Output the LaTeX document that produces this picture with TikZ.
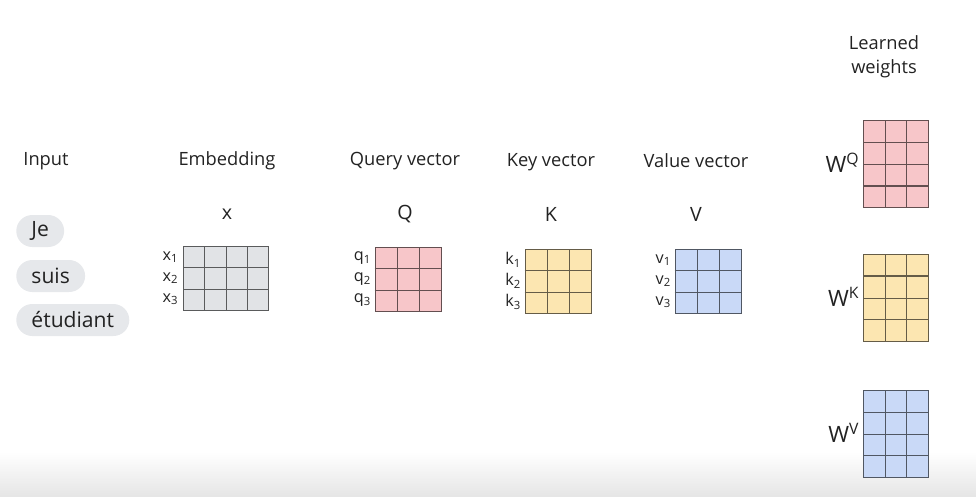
\documentclass[tikz,border=0pt]{standalone}
\usepackage{fontspec}
\setmainfont{Open Sans}
\usetikzlibrary{calc}

\definecolor{pillgray}{HTML}{E6E8EB}
\definecolor{embgray}{HTML}{E1E3E6}
\definecolor{qpink}{HTML}{F7C6C9}
\definecolor{kyellow}{HTML}{FCE6B1}
\definecolor{vblue}{HTML}{C9D9F7}
\definecolor{txtgray}{HTML}{222222}

\begin{document}
\begin{tikzpicture}[
    x=0.025cm, y=-0.025cm,
    font=\fontsize{13}{15}\selectfont,
    every node/.style={text=txtgray},
    pill/.style={fill=pillgray, rounded corners=0.4cm, minimum height=0.8cm,
                 inner xsep=0.38cm, font=\fontsize{15}{17}\selectfont},
    mat/.style={draw=#1!40!black, fill=#1, line width=0.5pt, inner sep=0pt},
    sub/.style={anchor=east, inner sep=1pt, font=\fontsize{11.5}{12}\selectfont},
    wlabel/.style={anchor=east, inner sep=1pt, font=\fontsize{16}{18}\selectfont},
    gridline/.style={draw=#1!40!black, line width=0.5pt}
]

% page and bottom fade
\useasboundingbox (0,0) rectangle (976,496);
\shade[top color=white, bottom color=black!10] (0,452) rectangle (976,496);

% Input column
\node (input) at (46,161) {Input};
\node[pill, anchor=west] (je) at (16,231) {Je};
\node[pill, anchor=west] (suis) at (16,276) {suis};
\node[pill, anchor=west] (etudiant) at (16,320) {étudiant};

% Embedding
\node (embtitle) at (227,161) {Embedding};
\node[font=\fontsize{14}{16}\selectfont] (xname) at (227,214) {x};
\node[mat=embgray, minimum width=2.125cm, minimum height=1.6cm, anchor=north west] (xmat) at (183,246) {};
\foreach \i in {1,2,3}
    \draw[gridline=embgray] ($(xmat.north west)!\i/4!(xmat.north east)$) -- ($(xmat.south west)!\i/4!(xmat.south east)$);
\foreach \i in {1,2}
    \draw[gridline=embgray] ($(xmat.north west)!\i/3!(xmat.south west)$) -- ($(xmat.north east)!\i/3!(xmat.south east)$);
\node[sub] (x1) at (180,257) {x\textsubscript{1}};
\node[sub] (x2) at (180,278) {x\textsubscript{2}};
\node[sub] (x3) at (180,299) {x\textsubscript{3}};

% Query, Key, Value
\foreach \nm/\cx/\ty/\ttl/\big/\col/\s in {
        q/408/247/Query vector/Q/qpink/q,
        k/558/249/Key vector/K/kyellow/k,
        v/708/249/Value vector/V/vblue/v} {
    \node[mat=\col, minimum width=1.65cm, minimum height=1.6cm, anchor=north] (\nm mat) at (\cx,\ty) {};
    \foreach \i in {1,2} {
        \draw[gridline=\col] ($(\nm mat.north west)!\i/3!(\nm mat.north east)$) -- ($(\nm mat.south west)!\i/3!(\nm mat.south east)$);
        \draw[gridline=\col] ($(\nm mat.north west)!\i/3!(\nm mat.south west)$) -- ($(\nm mat.north east)!\i/3!(\nm mat.south east)$);
    }
    \foreach \r in {1,2,3}
        \node[sub] (\nm\r) at ($(\nm mat.north west)+(-2,{21*\r-10})$) {\s\textsubscript{\r}};
}
\node (qtitle) at (405,161) {Query vector};
\node[font=\fontsize{14}{16}\selectfont] (qname) at (405,214) {Q};
\node (ktitle) at (551,162) {Key vector};
\node[font=\fontsize{14}{16}\selectfont] (kname) at (551,214) {K};
\node (vtitle) at (696,161) {Value vector};
\node[font=\fontsize{14}{16}\selectfont] (vname) at (696,214) {V};

% Learned weights
\node[align=center, font=\fontsize{13}{17}\selectfont] (learned) at (884,57) {Learned\\weights};
\foreach \nm/\ty/\col/\s/\thick in {
        wq/120/qpink/Q/3,
        wk/254/kyellow/K/1,
        wv/390/vblue/V/0} {
    \node[mat=\col, minimum width=1.625cm, minimum height=2.175cm, anchor=north west] (\nm) at (863,\ty) {};
    \foreach \i in {1,2}
        \draw[gridline=\col] ($(\nm.north west)!\i/3!(\nm.north east)$) -- ($(\nm.south west)!\i/3!(\nm.south east)$);
    \foreach \i in {1,2,3}
        \draw[gridline=\col] ($(\nm.north west)!\i/4!(\nm.south west)$) -- ($(\nm.north east)!\i/4!(\nm.south east)$);
    \ifnum\thick>0
        \draw[gridline=\col, line width=1.1pt] ($(\nm.north west)!\thick/4!(\nm.south west)$) -- ($(\nm.north east)!\thick/4!(\nm.south east)$);
    \fi
    \node[wlabel] (\nm label) at ($(\nm.west)+(-2,-1)$) {W\textsuperscript{\s}};
}

\end{tikzpicture}
\end{document}
